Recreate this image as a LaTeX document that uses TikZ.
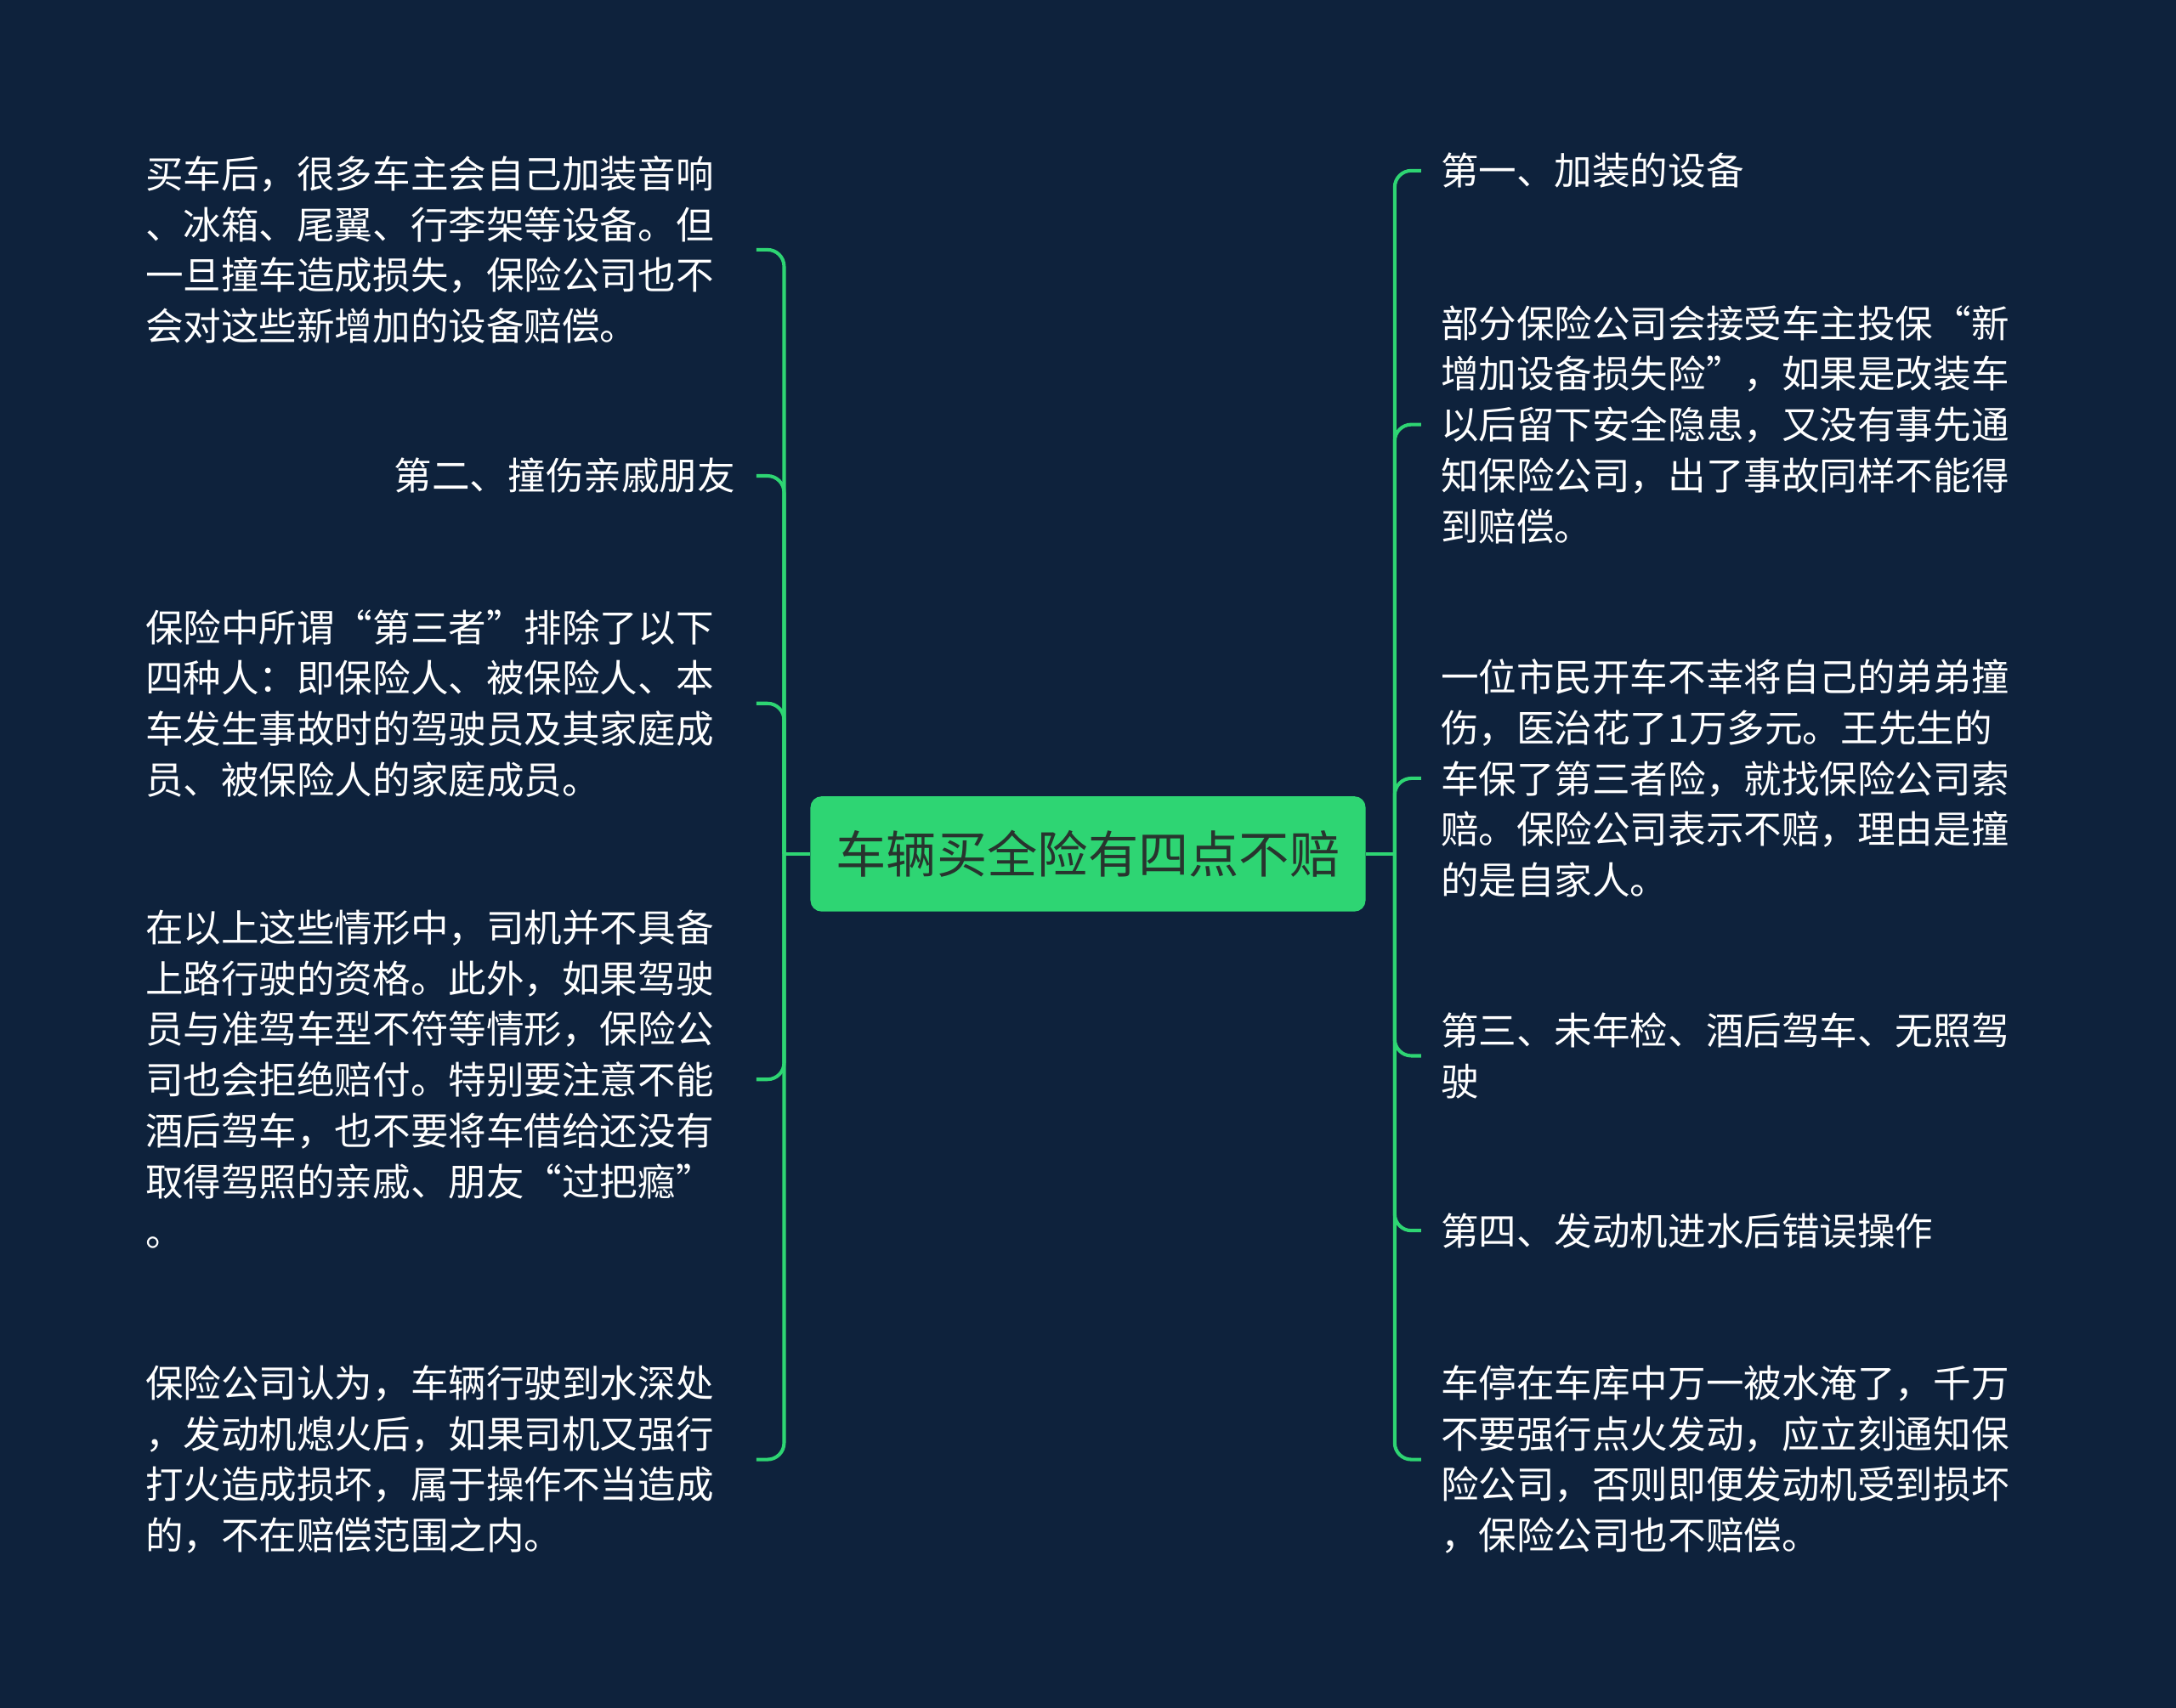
\documentclass[tikz,border=0pt]{standalone}
\usepackage{fontspec}
\setmainfont{Noto Sans CJK SC}
\usetikzlibrary{positioning}

\definecolor{mapbg}{RGB}{14,34,60}
\definecolor{mapgreen}{RGB}{46,213,115}
\definecolor{roottext}{RGB}{40,52,46}

\tikzset{
  leaf/.style={text=white, inner xsep=15bp, inner ysep=0, text width=425bp,
    font=\fontsize{27.3bp}{36.6bp}\selectfont},
  leftleaf/.style={leaf, anchor=east, align=left},
  rightleaf/.style={leaf, anchor=west, align=left, inner xsep=14bp},
  branch/.style={draw=mapgreen, line width=2.5bp, rounded corners=12bp},
}

\begin{document}
\begin{tikzpicture}[x=1bp, y=-1bp]
  \fill[mapbg] (0,0) rectangle (1568,1231);
  \useasboundingbox (0,0) rectangle (1568,1231);

  \node[rectangle, fill=mapgreen, rounded corners=8bp,
    minimum width=400bp, minimum height=83bp, inner sep=0,
    text=roottext, font=\fontsize{36.3bp}{40bp}\selectfont] (root) at (784,615.5) {车辆买全险有四点不赔};

  \coordinate (ltrunk) at (565,615.5);
  \coordinate (rtrunk) at (1005,615.5);

  % left side
  \node[leftleaf] (l1) at (545,180) {买车后，很多车主会自己加装音响\\、冰箱、尾翼、行李架等设备。但\\一旦撞车造成损失，保险公司也不\\会对这些新增加的设备赔偿。};
  \node[leftleaf, align=right] (l2) at (545,343) {第二、撞伤亲戚朋友};
  \node[leftleaf] (l3) at (545,507) {保险中所谓“第三者”排除了以下\\四种人：即保险人、被保险人、本\\车发生事故时的驾驶员及其家庭成\\员、被保险人的家庭成员。};
  \node[leftleaf] (l4) at (545,778) {在以上这些情形中，司机并不具备\\上路行驶的资格。此外，如果驾驶\\员与准驾车型不符等情形，保险公\\司也会拒绝赔付。特别要注意不能\\酒后驾车，也不要将车借给还没有\\取得驾照的亲戚、朋友“过把瘾”\\。};
  \node[leftleaf] (l5) at (545,1052) {保险公司认为，车辆行驶到水深处\\，发动机熄火后，如果司机又强行\\打火造成损坏，属于操作不当造成\\的，不在赔偿范围之内。};

  % right side
  \node[rightleaf] (r1) at (1024,123) {第一、加装的设备};
  \node[rightleaf] (r2) at (1024,306) {部分保险公司会接受车主投保“新\\增加设备损失险”，如果是改装车\\以后留下安全隐患，又没有事先通\\知保险公司，出了事故同样不能得\\到赔偿。};
  \node[rightleaf] (r3) at (1024,561) {一位市民开车不幸将自己的弟弟撞\\伤，医治花了1万多元。王先生的\\车保了第三者险，就找保险公司索\\赔。保险公司表示不赔，理由是撞\\的是自家人。};
  \node[rightleaf] (r4) at (1024,761) {第三、未年检、酒后驾车、无照驾\\驶};
  \node[rightleaf] (r5) at (1024,887) {第四、发动机进水后错误操作};
  \node[rightleaf] (r6) at (1024,1052) {车停在车库中万一被水淹了，千万\\不要强行点火发动，应立刻通知保\\险公司，否则即便发动机受到损坏\\，保险公司也不赔偿。};

  \draw[branch] (root.west) -- (ltrunk);
  \draw[branch] (root.east) -- (rtrunk);
  \foreach \leaf in {l1,l2,l3,l4,l5}
    \draw[branch] (ltrunk) |- (\leaf.east);
  \foreach \leaf in {r1,r2,r3,r4,r5,r6}
    \draw[branch] (rtrunk) |- (\leaf.west);
\end{tikzpicture}
\end{document}
